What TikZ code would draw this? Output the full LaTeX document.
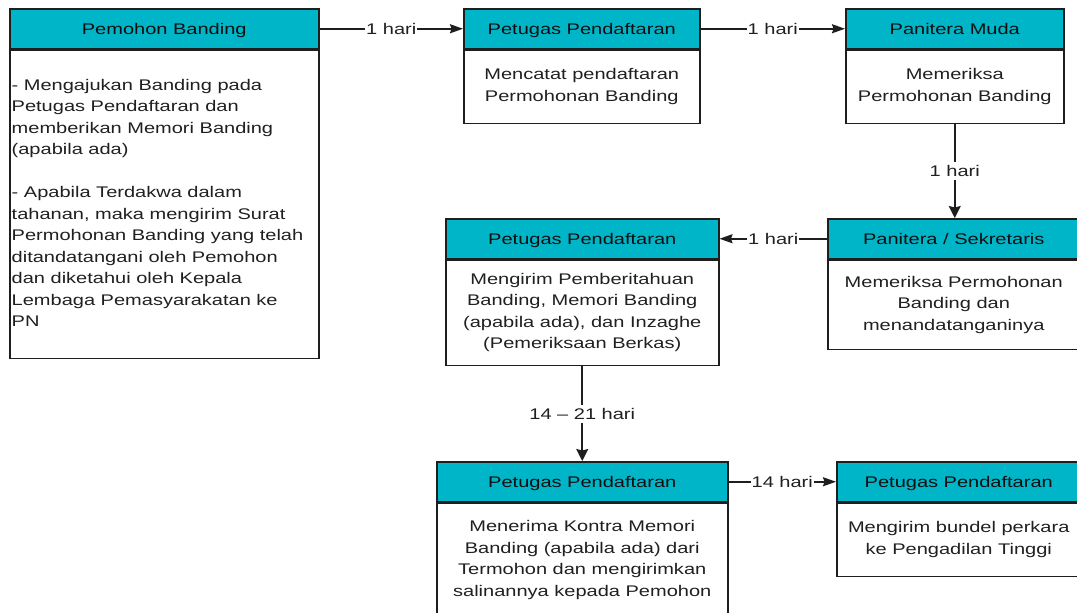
\documentclass[tikz,border=0pt]{standalone}
\usepackage{fontspec}
\setmainfont[FakeStretch=1.3]{Liberation Sans}
\usetikzlibrary{arrows.meta}
\definecolor{hdrfill}{RGB}{0,181,200}
\definecolor{linec}{RGB}{30,30,30}
\definecolor{hdrtext}{RGB}{15,15,15}
\definecolor{bodytext}{RGB}{32,32,32}
\newcommand{\myfont}{\fontsize{15.4pt}{21.5pt}\selectfont}
\tikzset{
  hdr/.style={draw=linec, fill=hdrfill, line width=1.5pt, minimum height=40pt,
    anchor=north west, inner sep=0pt, text height=11pt, text depth=0pt,
    font=\myfont, text=hdrtext},
  bodybox/.style={draw=linec, fill=white, line width=1.5pt, anchor=north, inner sep=0pt},
  bodytxt/.style={inner sep=0pt, font=\myfont, text=bodytext},
  lbl/.style={fill=white, inner xsep=1pt, inner ysep=3.5pt, text height=11pt,
    text depth=0pt, font=\myfont, text=bodytext},
  harr/.style={draw=linec, line width=1.6pt, -{Stealth[length=13pt,width=9pt,inset=1.5pt]}},
  varr/.style={draw=linec, line width=1.6pt, -{Stealth[length=12pt,width=12pt,inset=1.5pt]}}
}
\begin{document}
\begin{tikzpicture}[x=1pt,y=-1pt]
\useasboundingbox (0,0) rectangle (1077,613);

% Box 1
\node[hdr, minimum width=309pt] (h1) at (9,8) {Pemohon Banding};
\node[bodybox, minimum width=309pt, minimum height=308pt] (b1) at (h1.south) {};
\node[bodytxt, anchor=north west, align=left] (t1) at (11.5,79)
 {- Mengajukan Banding pada\\Petugas Pendaftaran dan\\memberikan Memori Banding\\(apabila ada)\\[21.5pt]- Apabila Terdakwa dalam\\tahanan, maka mengirim Surat\\Permohonan Banding yang telah\\ditandatangani oleh Pemohon\\dan diketahui oleh Kepala\\Lembaga Pemasyarakatan ke\\PN};

% Box 2
\node[hdr, minimum width=236pt] (h2) at (463,8) {Petugas Pendaftaran};
\node[bodybox, minimum width=236pt, minimum height=73pt] (b2) at (h2.south) {};
\node[bodytxt, align=center] (t2) at (b2.center) {Mencatat pendaftaran\\Permohonan Banding};

% Box 3
\node[hdr, minimum width=218pt] (h3) at (845,8) {Panitera Muda};
\node[bodybox, minimum width=218pt, minimum height=73pt] (b3) at (h3.south) {};
\node[bodytxt, align=center] (t3) at (b3.center) {Memeriksa\\Permohonan Banding};

% Box 4
\node[hdr, minimum width=252pt] (h4) at (827,218) {Panitera / Sekretaris};
\node[bodybox, minimum width=252pt, minimum height=89pt] (b4) at (h4.south) {};
\node[bodytxt, align=center] (t4) at (b4.center) {Memeriksa Permohonan\\Banding dan\\menandatanganinya};

% Box 5
\node[hdr, minimum width=273pt] (h5) at (445,218) {Petugas Pendaftaran};
\node[bodybox, minimum width=273pt, minimum height=105pt] (b5) at (h5.south) {};
\node[bodytxt, align=center] (t5) at (b5.center) {Mengirim Pemberitahuan\\Banding, Memori Banding\\(apabila ada), dan Inzaghe\\(Pemeriksaan Berkas)};

% Box 6
\node[hdr, minimum width=291pt] (h6) at (436,461) {Petugas Pendaftaran};
\node[bodybox, minimum width=291pt, minimum height=114pt] (b6) at (h6.south) {};
\node[bodytxt, align=center] (t6) at (b6.center) {Menerima Kontra Memori\\Banding (apabila ada) dari\\Termohon dan mengirimkan\\salinannya kepada Pemohon};

% Box 7
\node[hdr, minimum width=244pt] (h7) at (836,461) {Petugas Pendaftaran};
\node[bodybox, minimum width=244pt, minimum height=73pt] (b7) at (h7.south) {};
\node[bodytxt, align=center] (t7) at (b7.center) {Mengirim bundel perkara\\ke Pengadilan Tinggi};

% Connectors
\draw[harr] (h1.east) -- node[lbl] (l1) {1 hari} (h2.west);
\draw[harr] (h2.east) -- node[lbl] (l2) {1 hari} (h3.west);
\draw[varr] (b3.south) -- node[lbl] (l3) {1 hari} (b3.south |- h4.north);
\draw[harr] (h4.west) -- node[lbl] (l4) {1 hari} (h5.east);
\draw[varr] (b5.south) -- node[lbl] (l5) {14 -- 21 hari} (h6.north);
\draw[harr] (h6.east) -- node[lbl] (l6) {14 hari} (h7.west);
\end{tikzpicture}
\end{document}
